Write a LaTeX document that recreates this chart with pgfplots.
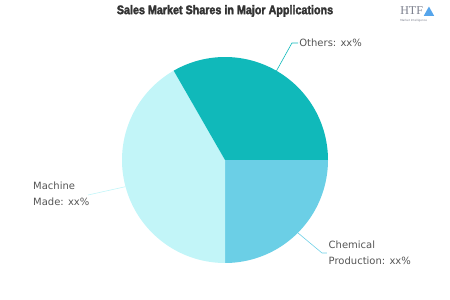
\documentclass[border=0pt]{standalone}
\usepackage{pgfplots}
\usepackage{pgfplotstable}
\pgfplotsset{compat=1.18}
\usepackage{fontspec}
\setmainfont{DejaVu Sans}
\newfontfamily\titlefont[FakeStretch=0.86,FakeBold=2.5]{Liberation Sans Bold}
\newfontfamily\logofont{Liberation Serif}
\definecolor{cOth}{HTML}{10B9BA}
\definecolor{cChem}{HTML}{6BCFE6}
\definecolor{cMach}{HTML}{C2F5F8}
\definecolor{txt}{HTML}{555555}
\definecolor{ttl}{HTML}{333333}
\definecolor{logo}{HTML}{7A7E8C}

\pgfplotstableread{
name share
Chemical 25.0
Machine 41.7
Others 33.3
}\shares

\begin{document}
\begin{tikzpicture}
\pgfplotstablegetelem{0}{share}\of\shares \let\sA\pgfplotsretval
\pgfplotstablegetelem{1}{share}\of\shares \let\sB\pgfplotsretval
\pgfplotstablegetelem{2}{share}\of\shares \let\sC\pgfplotsretval
\pgfmathsetmacro\aA{0}
\pgfmathsetmacro\aB{\aA-3.6*\sA}
\pgfmathsetmacro\aC{\aB-3.6*\sB}
\pgfmathsetmacro\aD{\aC-3.6*\sC}
\useasboundingbox (0,0) rectangle (450bp,300bp);
\begin{axis}[hide axis, scale only axis, width=450bp, height=300bp,
  xmin=-2.18447, xmax=2.18447, ymin=-1.35922, ymax=1.55340,
  clip=false, at={(0,0)}, anchor=south west]
\addplot[fill=cChem, draw=none, domain=\aA:\aB, samples=80, variable=\t] ({cos(\t)},{sin(\t)}) -- (axis cs:0,0) -- cycle;
\addplot[fill=cMach, draw=none, domain=\aB:\aC, samples=120, variable=\t] ({cos(\t)},{sin(\t)}) -- (axis cs:0,0) -- cycle;
\addplot[fill=cOth, draw=none, domain=\aC:\aD, samples=100, variable=\t] ({cos(\t)},{sin(\t)}) -- (axis cs:0,0) -- cycle;
% leader lines
\draw[cOth, line width=0.6pt] (axis cs:0.5,0.866) -- (axis cs:0.650,1.136) -- (axis cs:0.709,1.136);
\draw[cChem, line width=0.6pt] (axis cs:0.707,-0.707) -- (axis cs:0.942,-0.903) -- (axis cs:0.990,-0.903);
\draw[cMach, line width=0.6pt] (axis cs:-0.966,-0.259) -- (axis cs:-1.330,-0.340);
% labels
\node[anchor=west, inner sep=0pt, text=txt, font=\fontsize{10bp}{12bp}\selectfont] at (axis cs:0.72,1.136) {Others: xx\%};
\node[anchor=west, inner sep=0pt, text=txt, align=left, font=\fontsize{10bp}{16bp}\selectfont] at (axis cs:1.005,-0.903) {Chemical\\Production: xx\%};
\node[anchor=west, inner sep=0pt, text=txt, align=left, font=\fontsize{10bp}{16bp}\selectfont] at (axis cs:-1.864,-0.330) {Machine\\Made: xx\%};
% title
\node[inner sep=0pt, text=ttl, font=\titlefont\fontsize{12.5bp}{14bp}\selectfont] at (axis cs:0,1.447) {Sales Market Shares in Major Applications};
% logo
\node[inner sep=0pt, text=logo, anchor=west, font=\logofont\fontsize{12bp}{12bp}\selectfont] at (axis cs:1.70,1.45) {HTF};
\node[inner sep=0pt, text=logo, anchor=west, font=\fontsize{2.8bp}{3bp}\selectfont] at (axis cs:1.70,1.355) {Market Intelligence};
\fill[cChem!80!blue] (axis cs:1.93,1.40) -- (axis cs:2.03,1.40) -- (axis cs:1.98,1.49) -- cycle;
\end{axis}
\end{tikzpicture}
\end{document}
